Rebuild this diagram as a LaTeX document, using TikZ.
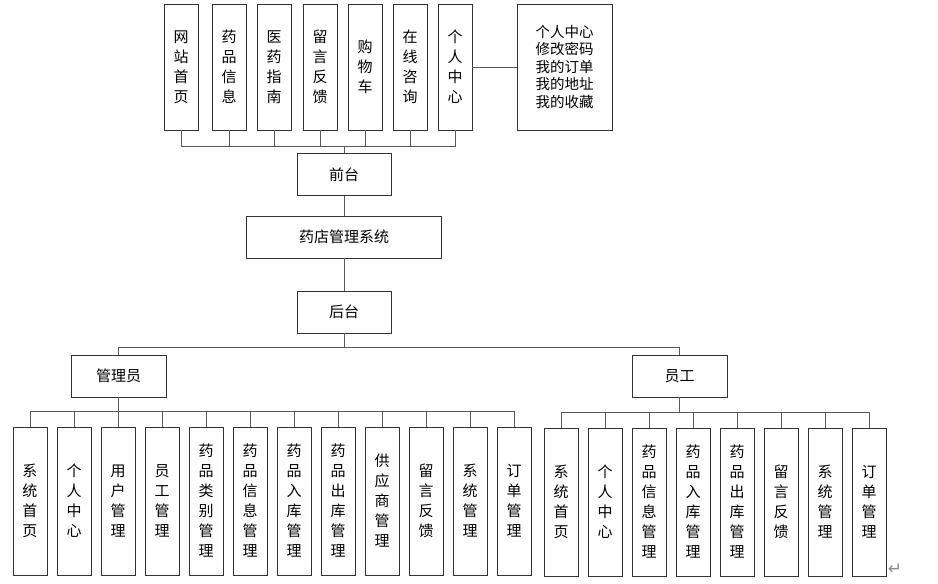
\documentclass[tikz,border=0pt]{standalone}
\usepackage{fontspec}
\newfontfamily\cjk{Noto Sans CJK SC}
\newfontfamily\dejavu{DejaVu Sans}
\begin{document}
\begin{tikzpicture}[x=1pt,y=-1pt,
  bx/.style={draw=black!80, line width=0.8pt, fill=white, inner sep=0pt, align=center,
    font=\cjk\fontsize{15}{20}\selectfont},
  vbox/.style={bx, minimum width=34pt, minimum height=126pt},
  lbox/.style={bx, minimum width=34pt, minimum height=148pt},
  hbox/.style={bx, minimum width=94pt, minimum height=42pt},
  ln/.style={draw=black!65, line width=0.8pt}]
\useasboundingbox (0,0) rectangle (938,584);
% top row
\node[vbox] (t1) at (181,67) {网\\站\\首\\页};
\node[vbox] (t2) at (229,67) {药\\品\\信\\息};
\node[vbox] (t3) at (274,67) {医\\药\\指\\南};
\node[vbox] (t4) at (320,67) {留\\言\\反\\馈};
\node[vbox] (t5) at (365,67) {购\\物\\车};
\node[vbox] (t6) at (410,67) {在\\线\\咨\\询};
\node[vbox] (t7) at (455,67) {个\\人\\中\\心};
\node[bx, minimum width=95pt, minimum height=126pt, font=\cjk\fontsize{14.5}{17.5}\selectfont] (rb) at (564.5,67)
  {个人中心\\修改密码\\我的订单\\我的地址\\我的收藏};
% center column
\node[hbox] (qt) at (344,174.5) {前台};
\node[hbox, minimum width=195pt] (sys) at (344,237) {药店管理系统};
\node[hbox] (ht) at (344,312) {后台};
\node[hbox, minimum width=95pt] (gly) at (118.5,376) {管理员};
\node[hbox, minimum width=95pt] (yg) at (679.5,376) {员工};
% admin children
\node[lbox] (a1) at (30,501) {系\\统\\首\\页};
\node[lbox] (a2) at (74,501) {个\\人\\中\\心};
\node[lbox] (a3) at (118,501) {用\\户\\管\\理};
\node[lbox] (a4) at (162,501) {员\\工\\管\\理};
\node[lbox] (a5) at (206,501) {药\\品\\类\\别\\管\\理};
\node[lbox] (a6) at (250,501) {药\\品\\信\\息\\管\\理};
\node[lbox] (a7) at (294,501) {药\\品\\入\\库\\管\\理};
\node[lbox] (a8) at (338,501) {药\\品\\出\\库\\管\\理};
\node[lbox] (a9) at (382,501) {供\\应\\商\\管\\理};
\node[lbox] (a10) at (426,501) {留\\言\\反\\馈};
\node[lbox] (a11) at (470,501) {系\\统\\管\\理};
\node[lbox] (a12) at (514,501) {订\\单\\管\\理};
% staff children
\node[lbox] (e1) at (561,502) {系\\统\\首\\页};
\node[lbox] (e2) at (605,502) {个\\人\\中\\心};
\node[lbox] (e3) at (649,502) {药\\品\\信\\息\\管\\理};
\node[lbox] (e4) at (693,502) {药\\品\\入\\库\\管\\理};
\node[lbox] (e5) at (737,502) {药\\品\\出\\库\\管\\理};
\node[lbox] (e6) at (781,502) {留\\言\\反\\馈};
\node[lbox] (e7) at (825,502) {系\\统\\管\\理};
\node[lbox] (e8) at (869,502) {订\\单\\管\\理};
% bus coordinates
\coordinate (fb) at (344,146);
\coordinate (mb) at (344,347);
\coordinate (ab) at (118.5,411);
\coordinate (eb) at (679.5,412);
% connectors
\foreach \n in {t1,t2,t3,t4,t5,t6,t7} \draw[ln] (\n.south) |- (fb);
\draw[ln] (fb) -- (qt.north);
\draw[ln] (t7.east) -- (rb.west);
\draw[ln] (qt.south) -- (sys.north);
\draw[ln] (sys.south) -- (ht.north);
\draw[ln] (ht.south) -- (mb);
\draw[ln] (mb) -| (gly.north);
\draw[ln] (mb) -| (yg.north);
\draw[ln] (gly.south) -- (ab);
\foreach \n in {a1,a2,a3,a4,a5,a6,a7,a8,a9,a10,a11,a12} \draw[ln] (\n.north) |- (ab);
\draw[ln] (yg.south) -- (eb);
\foreach \n in {e1,e2,e3,e4,e5,e6,e7,e8} \draw[ln] (\n.north) |- (eb);
% paragraph mark
\node[text=black!45, font=\dejavu\fontsize{17}{17}\selectfont, inner sep=0pt] (pm) at (895,569) {↵};
\end{tikzpicture}
\end{document}
